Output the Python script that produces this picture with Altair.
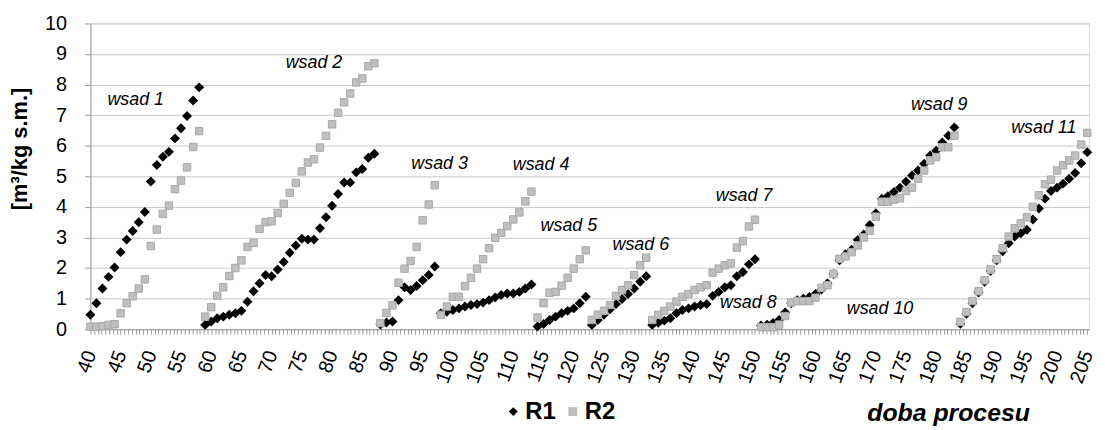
import altair as alt
import pandas as pd
import numpy as np

# ---- data (day of process, cumulative values) ----
batch_start = [40, 59, 88, 98, 114, 123, 133, 151, 184]

r1_batches = [
    [0.47, 0.85, 1.33, 1.71, 2.02, 2.52, 2.93, 3.21, 3.50, 3.83, 4.83, 5.37, 5.64, 5.80, 6.24, 6.57, 6.97, 7.48, 7.91],
    [0.14, 0.25, 0.36, 0.41, 0.47, 0.52, 0.60, 0.90, 1.24, 1.50, 1.77, 1.73, 1.95, 2.20, 2.50, 2.74, 2.96, 2.93, 2.93,
     3.30, 3.66, 4.04, 4.42, 4.80, 4.80, 5.13, 5.24, 5.61, 5.74],
    [0.15, 0.22, 0.25, 0.95, 1.37, 1.28, 1.41, 1.60, 1.77, 2.05],
    [0.52, 0.57, 0.63, 0.68, 0.74, 0.79, 0.82, 0.87, 0.95, 1.04, 1.12, 1.17, 1.17, 1.22, 1.33, 1.46],
    [0.09, 0.17, 0.30, 0.41, 0.52, 0.60, 0.68, 0.85, 1.06],
    [0.14, 0.30, 0.47, 0.65, 0.82, 0.99, 1.15, 1.33, 1.55, 1.73],
    [0.14, 0.21, 0.28, 0.36, 0.52, 0.63, 0.68, 0.74, 0.79, 0.82, 1.09, 1.22, 1.37, 1.44, 1.73, 1.87, 2.12, 2.29],
    [0.12, 0.15, 0.20, 0.30, 0.55, 0.85, 0.95, 1.00, 1.05, 1.15, 1.30, 1.50, 1.80, 2.25, 2.45, 2.60, 2.92, 3.10,
     3.41, 3.79, 4.27, 4.35, 4.49, 4.63, 4.82, 5.03, 5.19, 5.41, 5.68, 5.84, 6.11, 6.33, 6.60],
    [0.18, 0.50, 0.85, 1.20, 1.55, 1.90, 2.25, 2.55, 2.81, 3.03, 3.14, 3.25, 3.59, 3.95, 4.27, 4.52, 4.63, 4.76,
     4.92, 5.11, 5.43, 5.79],
]

r2_batches = [
    [0.08, 0.08, 0.10, 0.14, 0.16, 0.52, 0.85, 1.08, 1.33, 1.63, 2.72, 3.26, 3.77, 4.04, 4.58, 4.86, 5.29, 5.96, 6.48],
    [0.41, 0.72, 1.09, 1.37, 1.74, 2.00, 2.25, 2.69, 2.82, 3.28, 3.50, 3.53, 3.80, 4.10, 4.46, 4.78, 5.16, 5.45, 5.56,
     5.94, 6.32, 6.70, 7.08, 7.42, 7.71, 8.07, 8.20, 8.60, 8.70],
    [0.20, 0.53, 0.78, 1.52, 1.98, 2.23, 2.69, 3.56, 4.08, 4.71],
    [0.47, 0.74, 1.06, 1.06, 1.41, 1.68, 1.98, 2.29, 2.65, 2.99, 3.15, 3.37, 3.59, 3.82, 4.18, 4.50],
    [0.38, 0.85, 1.19, 1.22, 1.42, 1.68, 1.98, 2.29, 2.58],
    [0.30, 0.47, 0.60, 0.79, 1.09, 1.28, 1.44, 1.77, 2.09, 2.34],
    [0.30, 0.47, 0.60, 0.74, 0.90, 1.06, 1.15, 1.28, 1.37, 1.44, 1.85, 1.98, 2.09, 2.15, 2.67, 2.88, 3.36, 3.58],
    [0.07, 0.07, 0.07, 0.15, 0.43, 0.87, 0.92, 0.92, 0.92, 1.03, 1.35, 1.44, 1.81, 2.30, 2.38, 2.52, 2.74, 3.00,
     3.22, 3.68, 4.17, 4.17, 4.24, 4.28, 4.52, 4.63, 4.92, 5.19, 5.52, 5.63, 5.95, 5.95, 6.33],
    [0.24, 0.56, 0.92, 1.24, 1.60, 1.95, 2.29, 2.65, 3.03, 3.30, 3.46, 3.66, 4.00, 4.38, 4.74, 4.89, 5.19, 5.36,
     5.52, 5.68, 6.04, 6.42],
]

label_text = ["wsad 1", "wsad 2", "wsad 3", "wsad 4", "wsad 5", "wsad 6",
              "wsad 7", "wsad 8", "wsad 9", "wsad 10", "wsad 11"]
label_day = [47.5, 77.0, 97.8, 114.6, 119.2, 131.1, 148.2, 148.9, 180.5, 170.7, 197.8]
label_val = [7.50, 8.70, 5.40, 5.36, 3.38, 2.76, 4.35, 0.84, 7.32, 0.65, 6.59]

series_names = ["R1", "R2"]
y_ticks = list(range(0, 11))

# ---- tables ----
rows1, rows2 = [], []
for s, b1, b2 in zip(batch_start, r1_batches, r2_batches):
    for i, v in enumerate(b1):
        rows1.append({"day": s + i, "val": v, "series": "R1"})
    for i, v in enumerate(b2):
        rows2.append({"day": s + i, "val": v, "series": "R2"})
df1 = pd.DataFrame(rows1)
df2 = pd.DataFrame(rows2)
df_lab = pd.DataFrame({"day": label_day, "val": label_val, "t": label_text})

minor_ticks = [float(v) for v in np.arange(40, 205.01, 0.625)]

FONT = "Liberation Sans"

x_axis = alt.Axis(
    values=minor_ticks,
    labelExpr="datum.value % 5 === 0 ? format(datum.value, 'd') : ''",
    labelAngle=290, labelAlign="right", labelBaseline="middle",
    labelPadding=17, labelFontSize=20, labelFont=FONT, labelColor="black",
    labelOverlap=False, labelFlush=False, labelBound=False,
    tickSize=5, tickColor="#9a9a9a", domainColor="#9a9a9a", grid=False,
    title="doba procesu", titleFont=FONT, titleFontSize=25, titleFontWeight="bold",
    titleFontStyle="italic", titleColor="black",
    titleX=864, titleY=92, titleAlign="center", titleBaseline="alphabetic",
)
y_axis = alt.Axis(
    values=y_ticks, grid=True, gridColor="#c8c8c8",
    tickSize=6, tickColor="#9a9a9a", domainColor="#9a9a9a",
    labelFontSize=20, labelFont=FONT, labelColor="black", labelPadding=18,
    title="[m³/kg s.m.]", titleFont=FONT, titleFontSize=22, titleFontWeight="bold",
    titleColor="black", titleAngle=270, titleX=-71, titleY=126,
    titleAlign="center", titleBaseline="middle",
)

x_enc = alt.X("day:Q", scale=alt.Scale(domain=[40, 205.3], nice=False, zero=False), axis=x_axis)
y_enc = alt.Y("val:Q", scale=alt.Scale(domain=[0, 10], nice=False), axis=y_axis)

legend = alt.Legend(
    title=None, orient="none", legendX=414, legendY=379, direction="horizontal",
    labelFontSize=24, labelFontWeight="bold", labelFont=FONT, labelColor="black",
    symbolSize=80, labelOffset=0, columnPadding=5, symbolStrokeWidth=0, padding=0,
)
color_enc = alt.Color("series:N", scale=alt.Scale(domain=series_names, range=["#000000", "#bfbfbf"]), legend=legend)
shape_enc = alt.Shape("series:N", scale=alt.Scale(domain=series_names, range=["diamond", "square"]), legend=legend)

p1 = alt.Chart(df1).mark_point(filled=True, size=100, opacity=1).encode(
    x=x_enc, y=y_enc, color=color_enc, shape=shape_enc)
p2 = alt.Chart(df2).mark_point(filled=True, size=56, opacity=1, stroke="#a8a8a8", strokeWidth=1).encode(
    x=x_enc, y=y_enc, color=color_enc, shape=shape_enc)
txt = alt.Chart(df_lab).mark_text(font=FONT, fontSize=18, fontStyle="italic", color="black").encode(
    x=x_enc, y=y_enc, text="t:N")

chart = alt.layer(p1, p2, txt).properties(
    width=1006, height=308,
    autosize=alt.AutoSizeParams(type="none"),
    padding={"left": 83, "top": 14, "right": 8, "bottom": 100},
).configure_view(stroke="#b0b0b0", strokeWidth=1).configure(background="white")

chart.save("out.html", embed_options={"renderer": "svg", "actions": False})
